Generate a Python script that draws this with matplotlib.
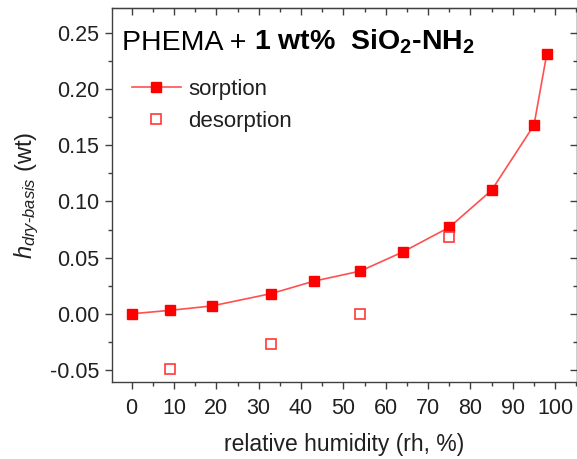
import matplotlib
matplotlib.use("Agg")
import matplotlib.pyplot as plt
from matplotlib.ticker import MultipleLocator

plt.rcParams['font.family'] = ['Liberation Sans', 'DejaVu Sans']
plt.rcParams['mathtext.fontset'] = 'custom'
plt.rcParams['mathtext.it'] = 'Liberation Sans:italic'
plt.rcParams['mathtext.rm'] = 'Liberation Sans'
plt.rcParams['mathtext.default'] = 'regular'

# sorption / desorption data
rh_sorp = [0, 9, 19, 33, 43, 54, 64, 75, 85, 95, 98]
h_sorp = [0.000, 0.003, 0.007, 0.018, 0.029, 0.038, 0.055, 0.077, 0.110, 0.168, 0.231]
rh_desorp = [9, 33, 54, 75]
h_desorp = [-0.049, -0.027, 0.000, 0.068]

red = '#ff0000'
axcol = '#404040'
txtcol = '#202020'

fig = plt.figure(figsize=(5.77, 4.59), dpi=100)
ax = fig.add_axes([0.1936, 0.1684, 0.806, 0.8135])

ax.plot(rh_sorp, h_sorp, color='#ff5050', lw=1.2, marker='s', ms=7.5,
        mfc=red, mec=red, label='sorption')
ax.plot(rh_desorp, h_desorp, ls='none', marker='s', ms=7.5, mfc='white',
        mec='#ff3a3a', mew=1.2, label='desorption')

ax.set_xlim(-4.7, 105.1)
ax.set_ylim(-0.0605, 0.272)
ax.xaxis.set_major_locator(MultipleLocator(10))
ax.xaxis.set_minor_locator(MultipleLocator(5))
ax.yaxis.set_major_locator(MultipleLocator(0.05))
ax.yaxis.set_minor_locator(MultipleLocator(0.025))
ax.yaxis.set_major_formatter(plt.FormatStrFormatter('%.2f'))

for s in ax.spines.values():
    s.set_color(axcol)
    s.set_linewidth(1.0)
ax.tick_params(which='major', direction='out', length=5, width=1.0,
               color=axcol, labelsize=15.5, labelcolor=txtcol)
ax.tick_params(axis='x', which='major', pad=7)
ax.tick_params(axis='y', which='major', pad=4)
ax.tick_params(which='minor', direction='out', length=3, width=1.0, color=axcol)

top = ax.secondary_xaxis('top')
top.xaxis.set_major_locator(MultipleLocator(10))
top.xaxis.set_minor_locator(MultipleLocator(5))
top.tick_params(which='major', direction='in', length=5, width=1.0, color=axcol, labeltop=False)
top.tick_params(which='minor', direction='in', length=3, width=1.0, color=axcol)
right = ax.secondary_yaxis('right')
right.yaxis.set_major_locator(MultipleLocator(0.05))
right.yaxis.set_minor_locator(MultipleLocator(0.025))
right.tick_params(which='major', direction='in', length=5, width=1.0, color=axcol, labelright=False)
right.tick_params(which='minor', direction='in', length=3, width=1.0, color=axcol)

ax.set_xlabel('relative humidity (rh, %)', fontsize=16.5, color=txtcol, labelpad=10)
ax.set_ylabel('$\\mathit{h}_{\\mathit{dry\u2010basis}}$ (wt)', fontsize=17,
              color=txtcol, labelpad=6)

t1 = ax.text(0.0215, 0.888, 'PHEMA + ', transform=ax.transAxes, fontsize=20.5,
             color='black', va='baseline', ha='left')
ax.annotate('1 wt%  SiO$_2$-NH$_2$', xy=(1, 0), xycoords=t1, fontsize=20.5,
            fontweight='bold', color='black', va='bottom', ha='left')

ax.legend(loc='upper left', bbox_to_anchor=(0.0, 0.865), frameon=False,
          fontsize=16, handlelength=2.2, handletextpad=0.35, labelspacing=0.5,
          labelcolor=txtcol)

fig.savefig('out.png', dpi=100)
